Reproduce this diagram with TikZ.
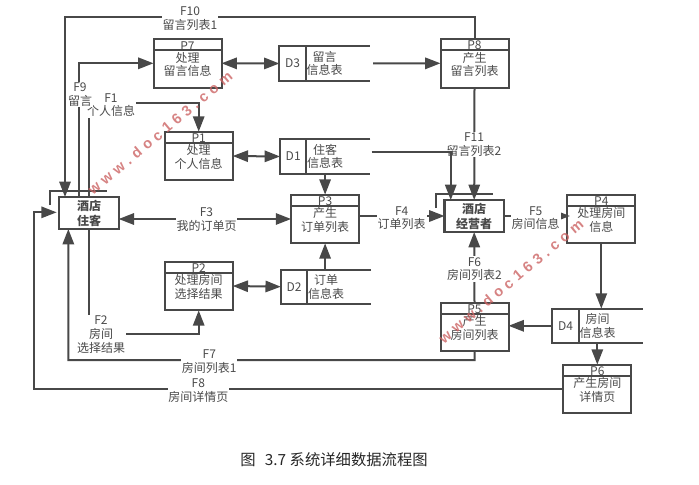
\documentclass[tikz,border=0pt]{standalone}
\usepackage{fontspec}
\setmainfont{Noto Sans CJK SC}
\newfontfamily\markfont[LetterSpace=32]{Liberation Sans}
\usetikzlibrary{arrows.meta}
\definecolor{linecol}{HTML}{484848}
\definecolor{textcol}{HTML}{4A4A4A}
\definecolor{markcol}{HTML}{CC6464}

\begin{document}
\begin{tikzpicture}[x=0.75pt,y=-0.75pt,
    txt/.style={text=textcol,font=\fontsize{9}{10.25}\selectfont,align=center,inner sep=0pt},
    procbox/.style={draw=linecol,line width=1.5pt,minimum width=51pt,minimum height=36.5pt,outer sep=0pt},
    storebox/.style={txt,minimum width=67.8pt,minimum height=25.8pt,outer sep=0pt},
    entbox/.style={draw=linecol,line width=1.7pt,minimum width=44.5pt,minimum height=24pt,outer sep=0pt,
      text=textcol,font=\fontsize{9}{11.25}\selectfont\bfseries,align=center,inner sep=0pt},
    outl/.style={draw=linecol,line width=1.5pt},
    flow/.style={outl,-{Triangle[length=11.5pt,width=8.5pt]}},
    both/.style={outl,{Triangle[length=11.5pt,width=8.5pt]}-{Triangle[length=11.5pt,width=8.5pt]}},
    flowlab/.style={txt,fill=white,inner sep=0.6pt},
    markup/.style={text=markcol,opacity=0.8,rotate=40,font=\markfont\fontsize{11}{11}\selectfont\bfseries}]
  \useasboundingbox (0,0) rectangle (699,485);

  % processes
  \foreach \name/\cx/\cy/\txtbody in {P7/187.5/63.3/{处理\\留言信息},P1/198.7/156/{处理\\个人信息},
      P3/325.1/219/{产生\\订单列表},P2/198.7/286/{处理房间\\选择结果},P8/474.5/63.3/{产生\\留言列表},
      P5/474.5/327/{产生\\房间列表},P4/601.3/219/{处理房间\\信息},P6/597.3/389/{产生房间\\详情页}} {
    \node[procbox] (\name) at (\cx,\cy) {};
    \node[txt] (\name t) at ([yshift=-0.8pt]\name.center) {\txtbody};
    \node[txt] (\name n) at ([yshift=-5pt]\name.north) {\name};
    \draw[outl] ([yshift=-8.5pt]\name.north west) -- ([yshift=-8.5pt]\name.north east);
  }

  % data stores
  \foreach \name/\cx/\cy/\txtbody in {D3/324.6/63.5/{留言\\信息表},D1/325.2/156.5/{住客\\信息表},
      D2/326/286.7/{订单\\信息表},D4/597.5/325.8/{房间\\信息表}} {
    \node[storebox] (\name) at (\cx,\cy) {\txtbody};
    \node[txt] (\name n) at ([xshift=9.9pt]\name.west) {\name};
    \draw[outl] (\name.north east) -- (\name.north west) -- (\name.south west) -- (\name.south east);
    \draw[outl] ([xshift=19.8pt]\name.north west) -- ([xshift=19.8pt]\name.south west);
  }

  % external entities
  \node[entbox] (C) at (89,213) {酒店\\住客};
  \node[entbox] (M) at (474.2,216) {酒店\\经营者};
  \draw[outl] (50,205) |- (107,190.7);
  \draw[outl] (436.3,208) |- (493.3,194);

  \coordinate (F10top) at (65,17);
  \coordinate (F1turn) at (198.7,103.3);
  \coordinate (F2turn) at (198.7,334.3);
  \coordinate (F7turn) at (68.3,360);
  \coordinate (F8turn) at (34,389);
  \coordinate (F8tip) at ([xshift=-2pt,yshift=0.5pt]C.west);
  \coordinate (D3out) at ([xshift=2.5pt]D3.east);
  \coordinate (D1out) at (371.7,151.7);

  % flows
  \draw[both] (P7.east) -- (D3.west);
  \draw[flow] (D3out) -- (P8.west);
  \draw[both] (P1.east) -- (D1.west);
  \draw[both] (P2.east) -- (D2.west);
  \draw[flow] (P3.north |- D1.south) -- (P3.north);
  \draw[flow] (P3.south |- D2.north) -- (P3.south);
  \draw[flow] (P8.north) |- (F10top) -- ([xshift=-18pt]C.north);
  \draw[flow] ([xshift=-7.3pt]C.north) |- (P7.west);
  \draw[flow] (C.north) |- (F1turn) -- (P1.north);
  \draw[flow] (C.south) |- (F2turn) -- (P2.south);
  \draw[both] (C.east |- P3.west) -- (P3.west);
  \draw[flow] (P3.east |- M.west) -- (M.west);
  \draw[flow] (M.east) -- ([xshift=2pt]P4.west |- M.east);
  \draw[flow] (P5.north) -- (M.south);
  \draw[flow] (P5.south) |- (F7turn) -- ([xshift=-15.5pt]C.south);
  \draw[flow] (P6.west) -- (F8turn) |- (F8tip);
  \draw[flow] (P8.south) -- (M.north);
  \draw[flow] (P4.south) -- (P4.south |- D4.north);
  \draw[flow] (D4.west) -- (P5.east |- D4.west);
  \draw[flow] (P6.north |- D4.south) -- (P6.north);

  % flow labels
  \node[flowlab] (F10) at (190,18.5) {F10\\留言列表1};
  \node[flowlab] (F1) at (111,105) {F1\\个人信息};
  \node[flowlab] (F9) at (80,94.5) {F9\\留言};
  \node[flowlab] (F2) at (101,334.5) {F2\\房间\\选择结果};
  \node[flowlab] (F3) at (206.5,219.5) {F3\\我的订单页};
  \node[flowlab] (F4) at (401.7,218) {F4\\订单列表};
  \node[flowlab] (F5) at (535.7,218) {F5\\房间信息};
  \node[flowlab] (F6) at (474.5,269) {F6\\房间列表2};
  \node[flowlab] (F7) at (209.3,361.6) {F7\\房间列表1};
  \node[flowlab] (F8) at (198.3,390.7) {F8\\房间详情页};
  \node[flowlab] (F11) at (474,144.7) {F11\\留言列表2};

  \draw[flow] (D1out) -| ([xshift=-17.6pt]M.north);

  % caption
  \node[inner sep=0pt,text=black!85,font=\fontsize{11.5}{12}\selectfont] (cap) at (334,460) {图\hspace{7pt}3.7 系统详细数据流程图};

  % watermarks
  \node[markup] (mark1) at (160,133) {www.doc163.com};
  \node[markup] (mark2) at (511,281) {www.doc163.com};
\end{tikzpicture}
\end{document}
